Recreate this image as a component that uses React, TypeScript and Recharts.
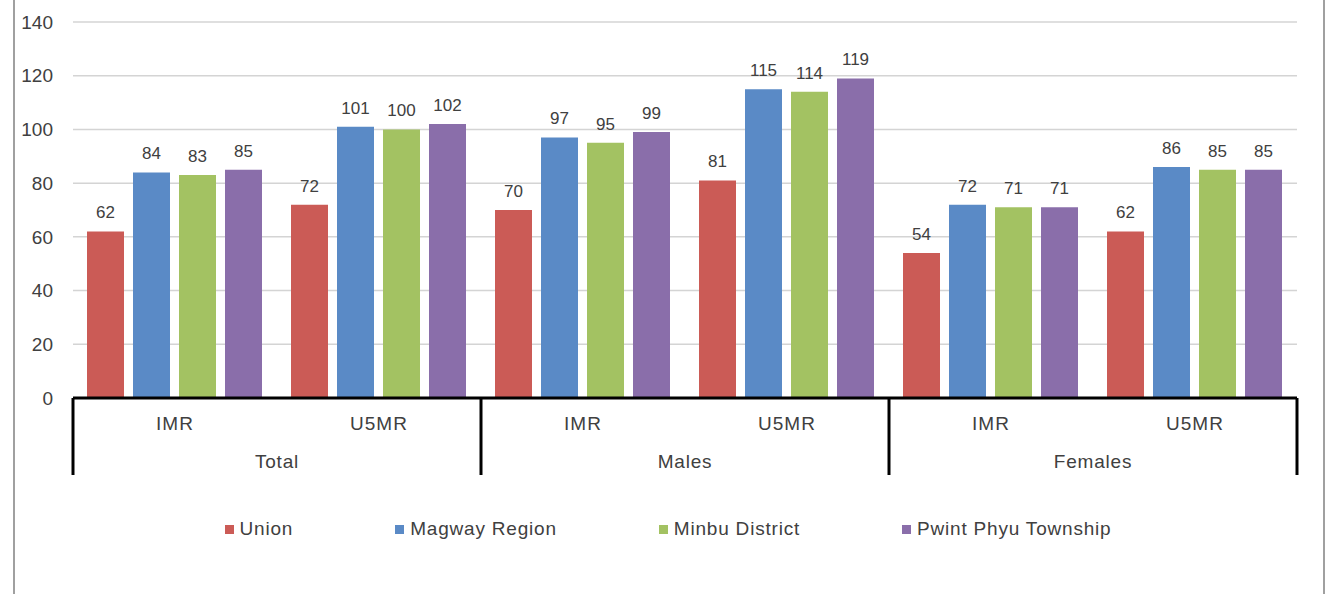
import { Bar, BarChart, CartesianGrid, LabelList, XAxis, YAxis } from "recharts";

const groups = ["Total", "Males", "Females"];
const measures = ["IMR", "U5MR"];
const union = [62, 72, 70, 81, 54, 62];
const magway = [84, 101, 97, 115, 72, 86];
const minbu = [83, 100, 95, 114, 71, 85];
const pwint = [85, 102, 99, 119, 71, 85];
const yTicks = [0, 20, 40, 60, 80, 100, 120, 140];

const seriesList = [
	{ key: "union", name: "Union", color: "#CB5B56" },
	{ key: "magway", name: "Magway Region", color: "#5A8AC6" },
	{ key: "minbu", name: "Minbu District", color: "#A3C262" },
	{ key: "pwint", name: "Pwint Phyu Township", color: "#8A6EAA" },
];

const data = union.map((u, i) => ({
	cat: measures[i % 2],
	group: groups[Math.floor(i / 2)],
	union: u,
	magway: magway[i],
	minbu: minbu[i],
	pwint: pwint[i],
}));

const W = 1341;
const H = 594;
const PLOT_LEFT = 73;
const PLOT_RIGHT = 1297;
const PLOT_TOP = 22;
const PLOT_BOTTOM = 398;
const CAT_W = (PLOT_RIGHT - PLOT_LEFT) / data.length;
const FONT = "'Liberation Sans', Arial, sans-serif";
const TEXT = "#404040";

function CategoryTick(props: any) {
	const { x, y, payload, index } = props;
	const row = data[index];
	const isFirst = index % 2 === 0;
	const isLast = index === data.length - 1;
	return (
		<g>
			<text
				x={x}
				y={y + 32}
				textAnchor="middle"
				fontSize={19}
				letterSpacing={1}
				fill={TEXT}
				fontFamily={FONT}
			>
				{payload.value}
			</text>
			{isFirst && (
				<>
					<text
						x={x + CAT_W / 2}
						y={y + 70}
						textAnchor="middle"
						fontSize={19}
						letterSpacing={0.8}
						fill={TEXT}
						fontFamily={FONT}
					>
						{row.group}
					</text>
					<line x1={x - CAT_W / 2} x2={x - CAT_W / 2} y1={y} y2={y + 77} stroke="#000" strokeWidth={3} />
				</>
			)}
			{isLast && (
				<line x1={x + CAT_W / 2} x2={x + CAT_W / 2} y1={y} y2={y + 77} stroke="#000" strokeWidth={3} />
			)}
		</g>
	);
}

export default function App() {
	return (
		<div style={{ position: "absolute", left: 0, top: 0, width: W, height: H, background: "#fff", overflow: "hidden" }}>
			<div
				style={{
					position: "absolute",
					left: 13,
					top: -10,
					width: 1308,
					height: H + 20,
					border: "2px solid #a0a0a0",
				}}
			/>
			<BarChart
				width={W}
				height={H}
				data={data}
				margin={{ top: PLOT_TOP, right: W - PLOT_RIGHT, left: 0, bottom: 0 }}
				barCategoryGap={14}
				barGap={9}
				style={{ position: "absolute", left: 0, top: 0 }}
			>
				<CartesianGrid vertical={false} stroke="#d4d4d4" strokeWidth={1.5} />
				<YAxis
					width={PLOT_LEFT}
					domain={[0, 140]}
					ticks={yTicks}
					axisLine={false}
					tickLine={false}
					tickMargin={14}
					tick={{ fontSize: 19, fill: TEXT, fontFamily: FONT }}
				/>
				<XAxis
					dataKey="cat"
					height={H - PLOT_BOTTOM}
					axisLine={{ stroke: "#000", strokeWidth: 3 }}
					tickLine={false}
					tickSize={0}
					tickMargin={0}
					interval={0}
					tick={<CategoryTick />}
				/>
				{seriesList.map((s) => (
					<Bar key={s.key} dataKey={s.key} name={s.name} fill={s.color} isAnimationActive={false}>
						<LabelList
							dataKey={s.key}
							position="top"
							offset={13}
							fontSize={17}
							fill={TEXT}
							fontFamily={FONT}
						/>
					</Bar>
				))}
			</BarChart>
			<div
				style={{
					position: "absolute",
					left: 14,
					width: 1308,
					top: 518,
					display: "flex",
					justifyContent: "center",
					gap: 102,
					fontFamily: FONT,
					fontSize: 19,
					letterSpacing: 0.8,
					color: TEXT,
				}}
			>
				{seriesList.map((s) => (
					<div key={s.key} style={{ display: "flex", alignItems: "center" }}>
						<span style={{ display: "inline-block", width: 9, height: 9, background: s.color, marginRight: 6 }} />
						<span>{s.name}</span>
					</div>
				))}
			</div>
		</div>
	);
}
